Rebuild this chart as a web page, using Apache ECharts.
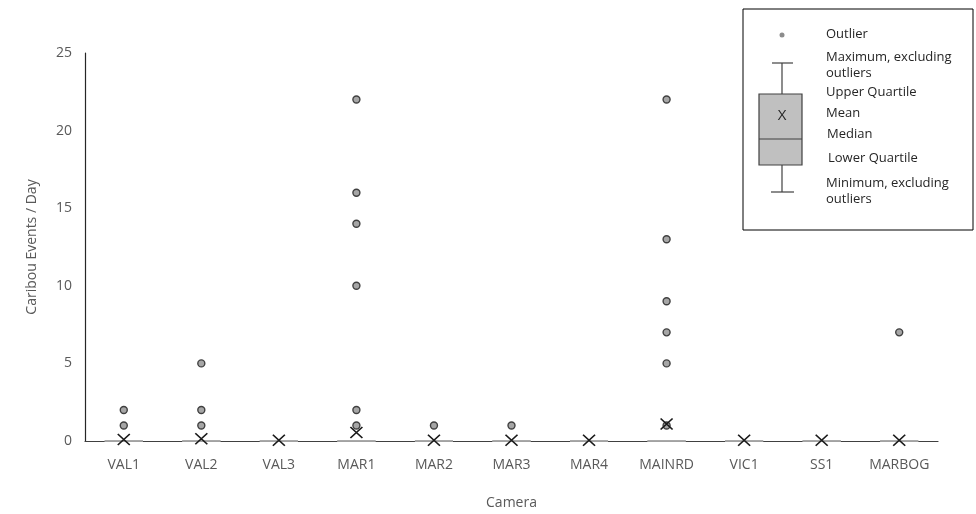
<!DOCTYPE html>
<html>
<head>
<meta charset="utf-8">
<script src="https://cdn.jsdelivr.net/npm/echarts@6/dist/echarts.min.js"></script>
<style>
  html, body { margin: 0; padding: 0; background: #fff; }
  #chart { width: 976px; height: 514px; }
</style>
</head>
<body>
<div id="chart"></div>
<script>
var cameras = ["VAL1", "VAL2", "VAL3", "MAR1", "MAR2", "MAR3", "MAR4", "MAINRD", "VIC1", "SS1", "MARBOG"];
// box stats per camera (min, q1, median, q3, max excluding outliers)
var minVals = [0, 0, 0, 0, 0, 0, 0, 0, 0, 0, 0];
var q1Vals = [0, 0, 0, 0, 0, 0, 0, 0, 0, 0, 0];
var medianVals = [0, 0, 0, 0, 0, 0, 0, 0, 0, 0, 0];
var q3Vals = [0, 0, 0, 0, 0, 0, 0, 0, 0, 0, 0];
var maxVals = [0, 0, 0, 0, 0, 0, 0, 0, 0, 0, 0];
var meanVals = [0.1, 0.15, 0.05, 0.55, 0.05, 0.05, 0.05, 1.1, 0.05, 0.05, 0.05];
var outlierVals = [[2, 1], [5, 2, 1], [], [22, 16, 14, 10, 2, 1], [1], [1], [], [22, 13, 9, 7, 5, 1], [], [], [7]];
var yTicks = [0, 5, 10, 15, 20, 25];

var boxData = cameras.map(function (c, i) {
  return [minVals[i], q1Vals[i], medianVals[i], q3Vals[i], maxVals[i]];
});
var outlierData = [];
outlierVals.forEach(function (vals, i) {
  vals.forEach(function (v) {
    outlierData.push([i, v]);
  });
});
var meanData = meanVals.map(function (v, i) {
  return [i, v];
});

var font = "'Open Sans', sans-serif";
var textCol = "#595959";
var xPath = "path://M0,0L10,10M10,0L0,10";

// legend illustration (upper right)
var lx = 782;
var legendText = [
  { t: "Outlier", x: 826, y: 34 },
  { t: "Maximum, excluding", x: 826, y: 57 },
  { t: "outliers", x: 826, y: 73 },
  { t: "Upper Quartile", x: 826, y: 92 },
  { t: "Mean", x: 826, y: 113 },
  { t: "Median", x: 827, y: 134 },
  { t: "Lower Quartile", x: 828, y: 158 },
  { t: "Minimum, excluding", x: 826, y: 183 },
  { t: "outliers", x: 826, y: 199 }
];
var graphics = [
  { type: "rect", shape: { x: 743, y: 9, width: 230, height: 221 }, style: { fill: "#fff", stroke: "#000", lineWidth: 1 } },
  { type: "circle", shape: { cx: lx, cy: 35, r: 2.5 }, style: { fill: "#8c8c8c" } },
  { type: "line", shape: { x1: 772, y1: 63, x2: 793, y2: 63 }, style: { stroke: "#404040", lineWidth: 1.2 } },
  { type: "line", shape: { x1: lx, y1: 63, x2: lx, y2: 94 }, style: { stroke: "#404040", lineWidth: 1.2 } },
  { type: "rect", shape: { x: 759, y: 94, width: 43, height: 71 }, style: { fill: "#c0c0c0", stroke: "#404040", lineWidth: 1.2 } },
  { type: "line", shape: { x1: 759, y1: 139, x2: 802, y2: 139 }, style: { stroke: "#404040", lineWidth: 1.2 } },
  { type: "line", shape: { x1: lx, y1: 165, x2: lx, y2: 192 }, style: { stroke: "#404040", lineWidth: 1.2 } },
  { type: "line", shape: { x1: 771, y1: 192, x2: 794, y2: 192 }, style: { stroke: "#404040", lineWidth: 1.2 } },
  { type: "text", x: lx, y: 116, style: { text: "X", fill: "#262626", font: "15px " + font, textAlign: "center", textVerticalAlign: "middle" } }
];
legendText.forEach(function (d) {
  graphics.push({ type: "text", x: d.x, y: d.y, style: { text: d.t, fill: "#262626", font: "13px " + font, textVerticalAlign: "middle" } });
});

var myChart = echarts.init(document.getElementById("chart"));
var option = {
  backgroundColor: "#fff",
  animation: false,
  grid: { left: 85, right: 38, top: 53, bottom: 73, containLabel: false, outerBoundsMode: "none" },
  xAxis: {
    type: "category",
    data: cameras,
    boundaryGap: true,
    name: "Camera",
    nameLocation: "middle",
    nameGap: 55,
    nameTextStyle: { color: textCol, fontSize: 14, fontFamily: font },
    axisLine: { lineStyle: { color: "#404040", width: 1.2 } },
    axisTick: { show: false },
    axisLabel: { color: textCol, fontSize: 14, fontFamily: font, margin: 17, interval: 0, hideOverlap: false },
    splitLine: { show: false }
  },
  yAxis: {
    type: "value",
    min: yTicks[0],
    max: yTicks[yTicks.length - 1],
    interval: 5,
    name: "Caribou Events / Day",
    nameLocation: "middle",
    nameGap: 46,
    nameTextStyle: { color: textCol, fontSize: 14, fontFamily: font },
    axisLine: { show: true, lineStyle: { color: "#262626", width: 1.2 } },
    axisTick: { show: false },
    axisLabel: { color: textCol, fontSize: 14, fontFamily: font, margin: 13 },
    splitLine: { show: false }
  },
  series: [
    {
      name: "box",
      type: "boxplot",
      data: boxData,
      boxWidth: [38, 38],
      itemStyle: { color: "#bfbfbf", borderColor: "#a6a6a6", borderWidth: 1 },
      z: 3
    },
    {
      name: "Outlier",
      type: "scatter",
      data: outlierData,
      symbol: "circle",
      symbolSize: 7,
      itemStyle: { color: "#a6a6a6", borderColor: "#404040", borderWidth: 1.4, opacity: 1 },
      z: 4
    },
    {
      name: "Mean",
      type: "scatter",
      data: meanData,
      symbol: xPath,
      symbolSize: [12, 11],
      clip: false,
      itemStyle: { color: "none", borderColor: "#1a1a1a", borderWidth: 1.6, opacity: 1 },
      z: 5
    }
  ],
  graphic: graphics
};
myChart.setOption(option);
window.addEventListener("resize", function () {
  myChart.resize();
});
</script>
</body>
</html>
